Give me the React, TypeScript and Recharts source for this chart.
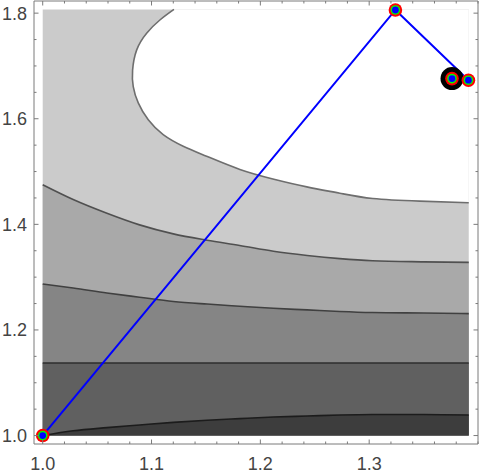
import React from "react";
import { Area, ComposedChart, Line, Scatter, XAxis, YAxis } from "recharts";

// contour samples (x positions shared by the four lower contour lines)
const xs = [1.0, 1.028, 1.059, 1.089, 1.12, 1.151, 1.181, 1.212, 1.243, 1.273, 1.303, 1.35, 1.3915];
const contourA = [1.475, 1.447, 1.421, 1.399, 1.382, 1.37, 1.36, 1.349, 1.341, 1.335, 1.331, 1.329, 1.328];
const contourB = [1.287, 1.2795, 1.27, 1.262, 1.254, 1.249, 1.245, 1.241, 1.238, 1.235, 1.233, 1.232, 1.231];
const contourC = [1.1375, 1.1375, 1.1375, 1.1375, 1.1375, 1.1375, 1.1375, 1.1375, 1.1375, 1.1375, 1.1375, 1.1375, 1.1375];
const contourD = [1.0, 1.009, 1.015, 1.02, 1.025, 1.029, 1.032, 1.035, 1.037, 1.039, 1.04, 1.04, 1.039];
const plateTop = [1.807, 1.807, 1.807, 1.807, 1.807, 1.807, 1.807, 1.807, 1.807, 1.807, 1.807, 1.807, 1.807];

// the open contour bounding the white (highest) region
const whiteX = [1.1206, 1.1077, 1.0955, 1.0863, 1.0826, 1.0832, 1.0878, 1.097, 1.1107, 1.1291, 1.1506, 1.1812, 1.2115, 1.2427, 1.273, 1.3033, 1.3465, 1.3915];
const whiteY = [1.807, 1.787, 1.762, 1.73, 1.692, 1.661, 1.63, 1.598, 1.57, 1.548, 1.529, 1.504, 1.486, 1.471, 1.459, 1.449, 1.444, 1.441];

// optimisation path
const pathX = [1.0, 1.3241, 1.3912, 1.3761];
const pathY = [1.0, 1.806, 1.673, 1.676];

const xMajor = [1.0, 1.1, 1.2, 1.3];
const xTicks = [1.0, 1.02, 1.04, 1.06, 1.08, 1.1, 1.12, 1.14, 1.16, 1.18, 1.2, 1.22, 1.24, 1.26, 1.28, 1.3, 1.32, 1.34, 1.36, 1.38, 1.4];
const yMajor = [1.0, 1.2, 1.4, 1.6, 1.8];
const yTicks = [1.0, 1.05, 1.1, 1.15, 1.2, 1.25, 1.3, 1.35, 1.4, 1.45, 1.5, 1.55, 1.6, 1.65, 1.7, 1.75, 1.8];

const contourTable = xs.map((x, i) => ({
  x,
  top: plateTop[i],
  A: contourA[i],
  B: contourB[i],
  C: contourC[i],
  D: contourD[i],
}));
const whiteCurve = whiteX.map((x, i) => ({ x, w: whiteY[i] }));
const pathPoints = pathX.map((x, i) => ({ x, y: pathY[i] }));
const finalPoint = [pathPoints[pathPoints.length - 1]];

const frame = "#7a7a7a";
const labelStyle = { fontFamily: "Liberation Sans, Arial, sans-serif", fontSize: 18, fill: "#444" };

const BottomTick = ({ x, y, payload }: any) => {
  const major = xMajor.includes(payload.value);
  return (
    <g>
      <line x1={x} x2={x} y1={y} y2={y - (major ? 4.5 : 2.5)} stroke={frame} />
      {major && (
        <text x={x} y={y + 26} textAnchor="middle" {...labelStyle}>
          {payload.value.toFixed(1)}
        </text>
      )}
    </g>
  );
};

const TopTick = ({ x, y, payload }: any) => {
  const major = xMajor.includes(payload.value);
  return <line x1={x} x2={x} y1={y} y2={y + (major ? 4.5 : 2.5)} stroke={frame} />;
};

const LeftTick = ({ x, y, payload }: any) => {
  const major = yMajor.includes(payload.value);
  return (
    <g>
      <line x1={x} x2={x + (major ? 4.5 : 2.5)} y1={y} y2={y} stroke={frame} />
      {major && (
        <text x={x - 7} y={y + 6.5} textAnchor="end" {...labelStyle}>
          {payload.value.toFixed(1)}
        </text>
      )}
    </g>
  );
};

const RightTick = ({ x, y, payload }: any) => {
  const major = yMajor.includes(payload.value);
  return <line x1={x} x2={x - (major ? 4.5 : 2.5)} y1={y} y2={y} stroke={frame} />;
};

const Marker = ({ cx, cy }: any) => (
  <g>
    <circle cx={cx} cy={cy} r={6.8} fill="#ff0000" />
    <circle cx={cx} cy={cy} r={4.8} fill="#00ff00" />
    <circle cx={cx} cy={cy} r={3.4} fill="#0000ff" />
  </g>
);

const FinalMarker = ({ cx, cy }: any) => <circle cx={cx} cy={cy} r={11.5} fill="#000" />;

export default function App() {
  return (
    <div style={{ position: "absolute", left: 0, top: 0 }}>
      <ComposedChart width={480} height={476} data={contourTable} margin={{ top: 0, right: 0, left: 0, bottom: 0 }}>
        <XAxis
          dataKey="x"
          type="number"
          domain={[0.992, 1.4]}
          allowDataOverflow
          ticks={xTicks}
          interval={0}
          tickSize={0}
          tickMargin={0}
          tickLine={false}
          tick={<BottomTick />}
          axisLine={{ stroke: frame }}
          height={32}
        />
        <XAxis
          xAxisId="top"
          orientation="top"
          dataKey="x"
          type="number"
          domain={[0.992, 1.4]}
          allowDataOverflow
          ticks={xTicks}
          interval={0}
          tickSize={0}
          tickMargin={0}
          tickLine={false}
          tick={<TopTick />}
          axisLine={{ stroke: frame }}
          height={1}
        />
        <YAxis
          type="number"
          domain={[0.984, 1.823]}
          allowDataOverflow
          ticks={yTicks}
          interval={0}
          tickSize={0}
          tickMargin={0}
          tickLine={false}
          tick={<LeftTick />}
          axisLine={{ stroke: frame }}
          width={34}
        />
        <YAxis
          yAxisId="right"
          orientation="right"
          type="number"
          domain={[0.984, 1.823]}
          allowDataOverflow
          ticks={yTicks}
          interval={0}
          tickSize={0}
          tickMargin={0}
          tickLine={false}
          tick={<RightTick />}
          axisLine={{ stroke: frame }}
          width={2}
        />
        <Area dataKey="top" type="linear" baseValue={1.0} fill="#cbcbcb" fillOpacity={1} stroke="none" dot={false} activeDot={false} isAnimationActive={false} />
        <Area dataKey="A" type="monotone" baseValue={1.0} fill="#a9a9a9" fillOpacity={1} stroke="#505050" strokeWidth={1.6} dot={false} activeDot={false} isAnimationActive={false} />
        <Area dataKey="B" type="monotone" baseValue={1.0} fill="#858585" fillOpacity={1} stroke="#404040" strokeWidth={1.6} dot={false} activeDot={false} isAnimationActive={false} />
        <Area dataKey="C" type="monotone" baseValue={1.0} fill="#606060" fillOpacity={1} stroke="#2e2e2e" strokeWidth={1.6} dot={false} activeDot={false} isAnimationActive={false} />
        <Area dataKey="D" type="monotone" baseValue={1.0} fill="#3d3d3d" fillOpacity={1} stroke="#1c1c1c" strokeWidth={1.6} dot={false} activeDot={false} isAnimationActive={false} />
        <Area data={whiteCurve} dataKey="w" type="natural" baseValue={1.807} fill="#ffffff" fillOpacity={1} stroke="#6e6e6e" strokeWidth={1.6} dot={false} activeDot={false} isAnimationActive={false} />
        <Scatter data={finalPoint} dataKey="y" shape={<FinalMarker />} isAnimationActive={false} />
        <Scatter data={pathPoints} dataKey="y" shape={<Marker />} isAnimationActive={false} />
        <Line data={pathPoints} dataKey="y" type="linear" stroke="#0000ff" strokeWidth={2} dot={false} activeDot={false} isAnimationActive={false} />
      </ComposedChart>
    </div>
  );
}
